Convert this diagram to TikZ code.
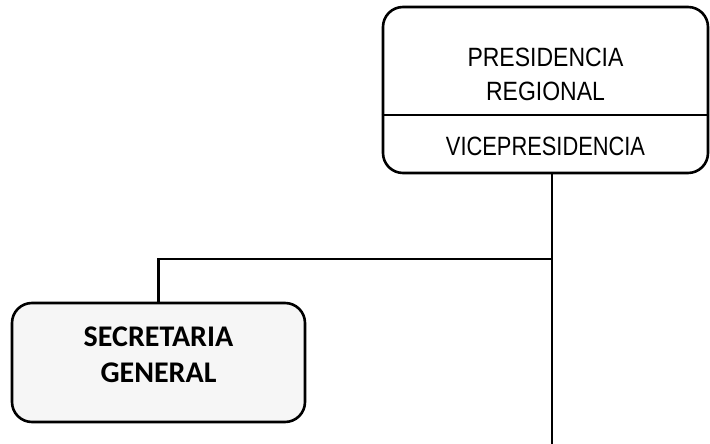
\documentclass[tikz,border=0pt]{standalone}
\usepackage{fontspec}
\setmainfont{Liberation Sans}
\newfontfamily\calfont{Carlito}
\begin{document}
\begin{tikzpicture}[x=1pt,y=1pt,
  boxline/.style={draw=black,line width=2.6pt,rounded corners=20pt},
  toptext/.style={font=\fontsize{23}{26}\selectfont,inner sep=0pt},
  sectext/.style={font=\calfont\bfseries\fontsize{30}{34}\selectfont,inner sep=0pt},
  conn/.style={draw=black,line width=2.4pt}]
\useasboundingbox (0,0) rectangle (710,444);
\node[boxline,minimum width=325pt,minimum height=166pt,inner sep=0pt] (top) at (545.5,354) {};
\draw[line width=2.2pt] (top.west |- 0,329) -- (top.east |- 0,329);
\node[toptext] (p1) at (545.5,387) {\scalebox{1}[1.15]{PRESIDENCIA}};
\node[toptext] (p2) at (545.5,353) {\scalebox{1}[1.15]{REGIONAL}};
\node[toptext] (p3) at (545.5,298) {\scalebox{0.95}[1.15]{VICEPRESIDENCIA}};
\node[boxline,fill=gray!7,minimum width=293pt,minimum height=119pt,inner sep=0pt] (sec) at (158.5,81.5) {};
\node[sectext] (s1) at (158.5,107) {SECRETARIA};
\node[sectext] (s2) at (158.5,71) {GENERAL};
\coordinate (j) at (552,185);
\coordinate (end) at (552,0);
\draw[conn] (top.south -| j) -- (end);
\draw[conn] (sec.north) |- (j);
\end{tikzpicture}
\end{document}
